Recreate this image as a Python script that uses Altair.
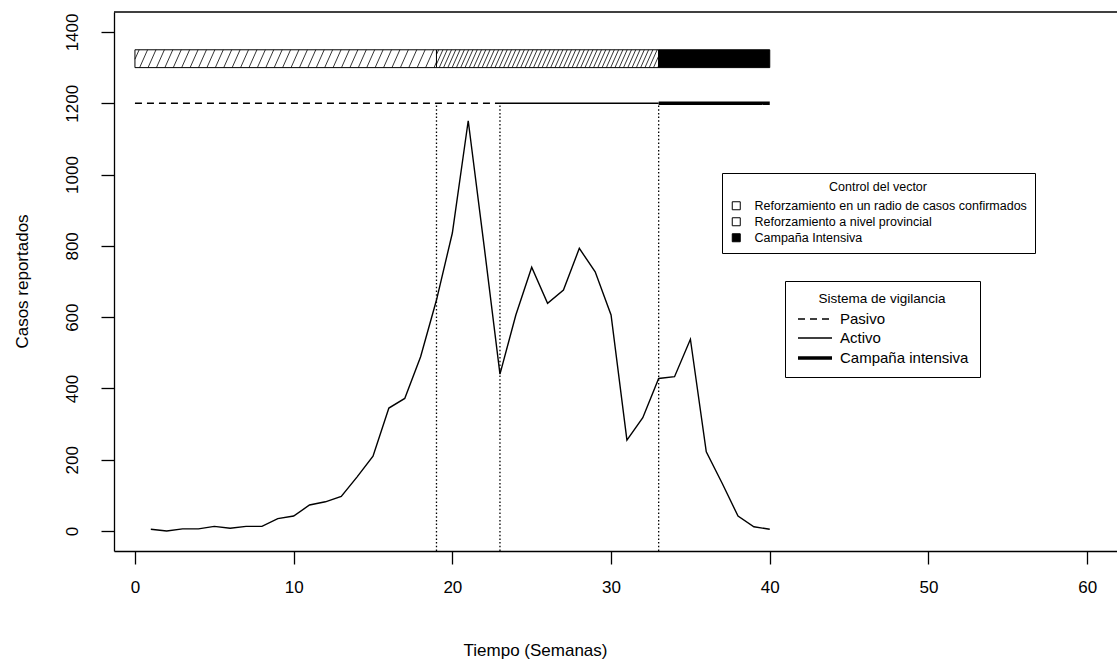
import altair as alt
import numpy as np
import pandas as pd

# Weekly reported cases
weeks = list(range(1, 41))
cases = [5, 0, 6, 6, 13, 8, 13, 13, 35, 42,
         73, 82, 97, 152, 210, 345, 372, 489, 648, 836,
         1151, 800, 440, 606, 740, 639, 676, 793, 727, 606,
         255, 318, 428, 433, 538, 222, 134, 42, 12, 5]

# Vector-control phases (top bar)
control_names = ["Reforzamiento en un radio de casos confirmados",
                 "Reforzamiento a nivel provincial",
                 "Campaña Intensiva"]
control_start = [0, 19, 33]
control_end = [19, 33, 40]
control_lo = 1300
control_hi = 1350

# Surveillance-system phases (line at 1200)
surv_names = ["Pasivo", "Activo", "Campaña intensiva"]
surv_start = [0, 23, 33]
surv_end = [23, 33, 40]
surv_level = 1200

# Weeks where the strategy changes
change_weeks = [19, 23, 33]

X_DOMAIN = [-1.32, 61.88]
Y_DOMAIN = [-56, 1456]
W, H = 1003, 539
FONT = "Liberation Sans"

line_df = pd.DataFrame({"week": weeks, "cases": cases})
ctrl_df = pd.DataFrame({"control": control_names, "start": control_start,
                        "end": control_end, "lo": control_lo, "hi": control_hi})
surv_df = pd.DataFrame({"sistema": surv_names, "start": surv_start,
                        "end": surv_end, "level": surv_level})
chg_df = pd.DataFrame({"week": change_weeks, "lo": Y_DOMAIN[0], "hi": surv_level})

# Diagonal hatching for the first two control phases
def hatch_lines(x0, x1, step, slant=0.5):
    rows = []
    for s in np.arange(x0 - slant + step / 2, x1, step):
        a, b = s, s + slant
        ya, yb = control_lo, control_hi
        if a < x0:
            ya = control_lo + (x0 - a) / slant * (control_hi - control_lo)
            a = x0
        if b > x1:
            yb = control_lo + (x1 - s) / slant * (control_hi - control_lo)
            b = x1
        rows.append({"x": a, "x2": b, "y": ya, "y2": yb})
    return rows

hatch_rows = (hatch_lines(control_start[0], control_end[0], 0.53)
              + hatch_lines(control_start[1], control_end[1], 0.27))
hatch_df = pd.DataFrame(hatch_rows)

xscale = alt.Scale(domain=X_DOMAIN, nice=False, zero=False)
yscale = alt.Scale(domain=Y_DOMAIN, nice=False, zero=False)

xaxis = alt.Axis(values=list(range(0, 61, 10)), title="Tiempo (Semanas)", grid=False,
                 domainColor="black", domainWidth=1.3, tickColor="black", tickWidth=1.3,
                 tickSize=13, labelFont=FONT, labelFontSize=17, labelColor="black",
                 labelBaseline="middle", labelPadding=23, labelFlush=False, format="d",
                 titleFont=FONT, titleFontSize=17, titleFontWeight="normal",
                 titleColor="black", titleX=421, titleY=99, titleBaseline="middle",
                 titleAlign="center")
yaxis = alt.Axis(values=list(range(0, 1401, 200)), title="Casos reportados", grid=False,
                 domainColor="black", domainWidth=1.3, tickColor="black", tickWidth=1.3,
                 tickSize=13, labelFont=FONT, labelFontSize=17, labelColor="black",
                 labelAngle=270, labelAlign="center", labelBaseline="middle",
                 labelPadding=29, labelFlush=False, format="d",
                 titleFont=FONT, titleFontSize=17, titleFontWeight="normal",
                 titleColor="black", titleX=-92, titleY=269, titleAngle=270,
                 titleBaseline="middle", titleAlign="center")

ctrl_legend = alt.Legend(title="Control del vector", orient="none", legendX=608, legendY=161,
                         direction="vertical", strokeColor="black", fillColor="white",
                         padding=8, titleFont=FONT, titleFontSize=12.5, titleFontWeight="normal",
                         titleColor="black", titleAnchor="middle", titlePadding=6,
                         labelFont=FONT, labelFontSize=12.5, labelColor="black", labelLimit=0,
                         symbolType="square", symbolSize=64, symbolStrokeColor="black",
                         symbolStrokeWidth=1, labelOffset=12, rowPadding=3)

# Line-sample symbol drawn to the right of its anchor so the entry rows stay compact
surv_legend = alt.Legend(title="Sistema de vigilancia", orient="none", legendX=671, legendY=269,
                         direction="vertical", strokeColor="black", fillColor="white",
                         padding=11, titleFont=FONT, titleFontSize=13.5, titleFontWeight="normal",
                         titleColor="black", titleAnchor="middle", titlePadding=4,
                         labelFont=FONT, labelFontSize=15, labelColor="black", labelLimit=0,
                         symbolType="M-1,0H3", symbolSize=289, symbolStrokeColor="black",
                         symbolFillColor="transparent",
                         labelOffset=23, rowPadding=1)

bars = alt.Chart(ctrl_df).mark_rect(stroke="black", strokeWidth=1).encode(
    x=alt.X("start:Q", scale=xscale, axis=xaxis),
    x2="end:Q",
    y=alt.Y("lo:Q", scale=yscale, axis=yaxis),
    y2="hi:Q",
    fill=alt.Fill("control:N",
                  scale=alt.Scale(domain=control_names, range=["white", "white", "black"]),
                  legend=ctrl_legend),
)

hatch = alt.Chart(hatch_df).mark_rule(color="black", strokeWidth=0.8).encode(
    x=alt.X("x:Q", scale=xscale, axis=xaxis),
    x2="x2:Q",
    y=alt.Y("y:Q", scale=yscale, axis=yaxis),
    y2="y2:Q",
)

surv = alt.Chart(surv_df).mark_rule(color="black").encode(
    x=alt.X("start:Q", scale=xscale, axis=xaxis),
    x2="end:Q",
    y=alt.Y("level:Q", scale=yscale, axis=yaxis),
    strokeDash=alt.StrokeDash("sistema:N",
                              scale=alt.Scale(domain=surv_names,
                                              range=[[7, 5], [1, 0], [1, 0]]),
                              legend=surv_legend),
    strokeWidth=alt.StrokeWidth("sistema:N",
                                scale=alt.Scale(type="ordinal", domain=surv_names,
                                                range=[1.3, 1.3, 3.6]),
                                legend=surv_legend),
)

changes = alt.Chart(chg_df).mark_rule(color="black", strokeWidth=1.3, strokeDash=[1.5, 2.2]).encode(
    x=alt.X("week:Q", scale=xscale, axis=xaxis),
    y=alt.Y("lo:Q", scale=yscale, axis=yaxis),
    y2="hi:Q",
)

curve = alt.Chart(line_df).mark_line(color="black", strokeWidth=1.4).encode(
    x=alt.X("week:Q", scale=xscale, axis=xaxis),
    y=alt.Y("cases:Q", scale=yscale, axis=yaxis),
)

# Upper edge of the plot frame
frame_top = alt.Chart(pd.DataFrame({"k": [0]})).mark_rule(color="black", strokeWidth=1.3).encode(
    x=alt.value(0), x2=alt.value(W), y=alt.value(0)
)

chart = alt.layer(bars, hatch, surv, changes, curve, frame_top).properties(
    width=W, height=H,
    padding={"left": 114, "top": 12, "right": 0, "bottom": 111},
    autosize=alt.AutoSizeParams(type="none"),
    background="white",
).configure_view(stroke=None)

chart.save("out.html", embed_options={"renderer": "svg", "actions": False})
